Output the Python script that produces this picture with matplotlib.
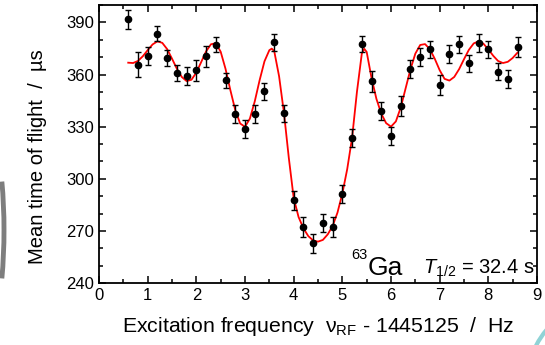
"""Time-of-flight ion-cyclotron resonance of 63Ga, with fitted line shape."""

import matplotlib

matplotlib.use("Agg")
import matplotlib.pyplot as plt
from matplotlib.patches import Arc
from matplotlib.ticker import MultipleLocator

# measured points: excitation frequency offset (Hz) and mean time of flight (us)
freq = [0.6, 0.8, 1.0, 1.2, 1.4, 1.6, 1.8, 2.0, 2.2, 2.4, 2.6, 2.8, 3.0, 3.2,
        3.4, 3.6, 3.8, 4.0, 4.2, 4.4, 4.6, 4.8, 5.0, 5.2, 5.4, 5.6, 5.8, 6.0,
        6.2, 6.4, 6.6, 6.8, 7.0, 7.2, 7.4, 7.6, 7.8, 8.0, 8.2, 8.4, 8.6]
tof = [391.7, 365.7, 370.6, 383.5, 369.5, 360.9, 359.2, 362.4, 370.5, 377.2,
       356.7, 337.3, 328.7, 337.3, 350.3, 378.5, 337.7, 287.5, 272.0, 262.8,
       274.7, 272.4, 291.1, 323.5, 377.4, 356.1, 339.0, 324.7, 341.7, 363.0,
       370.1, 374.5, 353.8, 371.6, 377.4, 366.4, 378.1, 374.5, 361.5, 357.6,
       375.8]
tof_err = [5.4, 7.0, 5.3, 4.3, 4.8, 4.8, 5.3, 6.0, 6.0, 4.3, 4.4, 5.0, 5.2,
           5.0, 5.0, 4.7, 4.8, 5.3, 5.7, 5.6, 5.3, 5.7, 5.3, 5.1, 4.7, 5.9,
           5.3, 5.3, 5.7, 5.2, 5.0, 4.8, 5.7, 5.1, 4.8, 4.9, 5.1, 4.8, 4.9,
           5.2, 5.5]

# fitted curve
fit_freq = [0.6, 0.7, 0.8, 0.9, 1.0, 1.1, 1.2, 1.3, 1.4, 1.5, 1.6, 1.7, 1.8,
            1.9, 2.0, 2.1, 2.2, 2.3, 2.4, 2.5, 2.6, 2.7, 2.8, 2.9, 3.0, 3.1,
            3.2, 3.3, 3.4, 3.5, 3.55, 3.6, 3.7, 3.8, 3.9, 4.0, 4.1, 4.2, 4.3,
            4.4, 4.5, 4.6, 4.7, 4.8, 4.9, 5.0, 5.1, 5.2, 5.3, 5.4, 5.45, 5.5,
            5.6, 5.7, 5.8, 5.9, 6.0, 6.1, 6.2, 6.3, 6.4, 6.5, 6.6, 6.7, 6.8,
            6.9, 7.0, 7.1, 7.2, 7.3, 7.4, 7.5, 7.6, 7.7, 7.8, 7.9, 8.0, 8.1,
            8.2, 8.3, 8.4, 8.5, 8.6]
fit_tof = [366.8, 366.6, 367.8, 370.5, 374.0, 377.3, 379.1, 378.2, 374.6,
           369.1, 363.3, 358.6, 356.2, 357.0, 361.1, 367.2, 373.3, 377.4,
           378.0, 373.1, 363.2, 350.9, 339.5, 331.8, 329.9, 334.6, 344.5,
           356.7, 367.6, 374.0, 374.9, 373.5, 359.0, 338.0, 312.0, 289.0,
           278.0, 271.5, 267.0, 264.5, 263.8, 264.8, 268.0, 272.8, 280.5,
           291.5, 305.5, 323.5, 350.0, 372.0, 374.8, 373.0, 358.0, 346.0,
           337.5, 332.0, 330.0, 333.0, 341.0, 352.0, 363.0, 372.0, 377.0,
           377.5, 374.5, 369.0, 362.5, 357.5, 356.5, 358.6, 363.1, 368.8,
           374.2, 377.9, 379.1, 377.7, 374.5, 370.8, 367.8, 366.6, 367.3,
           369.5, 372.6]

plt.rcParams["font.family"] = ["Liberation Sans", "DejaVu Sans"]
plt.rcParams["mathtext.fontset"] = "custom"
plt.rcParams["mathtext.rm"] = "Liberation Sans"
plt.rcParams["mathtext.it"] = "Liberation Sans:italic"

fig = plt.figure(figsize=(5.45, 3.45), dpi=100)
ax = fig.add_axes([0.1817, 0.1797, 0.8036, 0.8058])

ax.plot(fit_freq, fit_tof, color="red", lw=1.3, zorder=2)
ax.errorbar(freq, tof, yerr=tof_err, fmt="o", color="black", ms=4.5,
            elinewidth=1.0, capsize=2.2, capthick=1.0, zorder=3)

ax.set_xlim(0, 9)
ax.set_ylim(240, 400)
ax.xaxis.set_major_locator(MultipleLocator(1))
ax.xaxis.set_minor_locator(MultipleLocator(0.5))
ax.yaxis.set_major_locator(MultipleLocator(30))
ax.yaxis.set_minor_locator(MultipleLocator(10))
ax.tick_params(which="both", direction="in", top=True, right=True,
               labeltop=False, labelright=False, width=1.1, labelsize=12)
ax.tick_params(which="major", length=5)
ax.tick_params(which="minor", length=3)
for spine in ax.spines.values():
    spine.set_linewidth(1.3)

ax.set_xlabel(r"Excitation frequency  $\mathrm{ν}_{\mathrm{RF}}$ - 1445125  /  Hz",
              fontsize=15.3, labelpad=9)
ax.set_ylabel("Mean time of flight  /  µs", fontsize=14.5)
ax.yaxis.set_label_coords(-0.118, 0.453)

ax.text(5.19, 253.6, "63", fontsize=10.5)
ax.text(5.52, 244.6, "Ga", fontsize=19)
ax.text(6.66, 245.6, r"$\mathit{T}_{\mathit{1/2}}$ = 32.4 s", fontsize=14.5)

# slide decorations around the figure
fig.add_artist(Arc((-26 / 545, 115 / 345), 60 / 545, 260 / 345, theta1=-70, theta2=70,
                   transform=fig.transFigure, color="#707070", lw=3.5, alpha=0.9))
fig.add_artist(Arc((620 / 545, -45 / 345), 190 / 545, 190 / 345,
                   transform=fig.transFigure, color="#8fd3d6", lw=3.0))

fig.savefig("out.png", dpi=100)
